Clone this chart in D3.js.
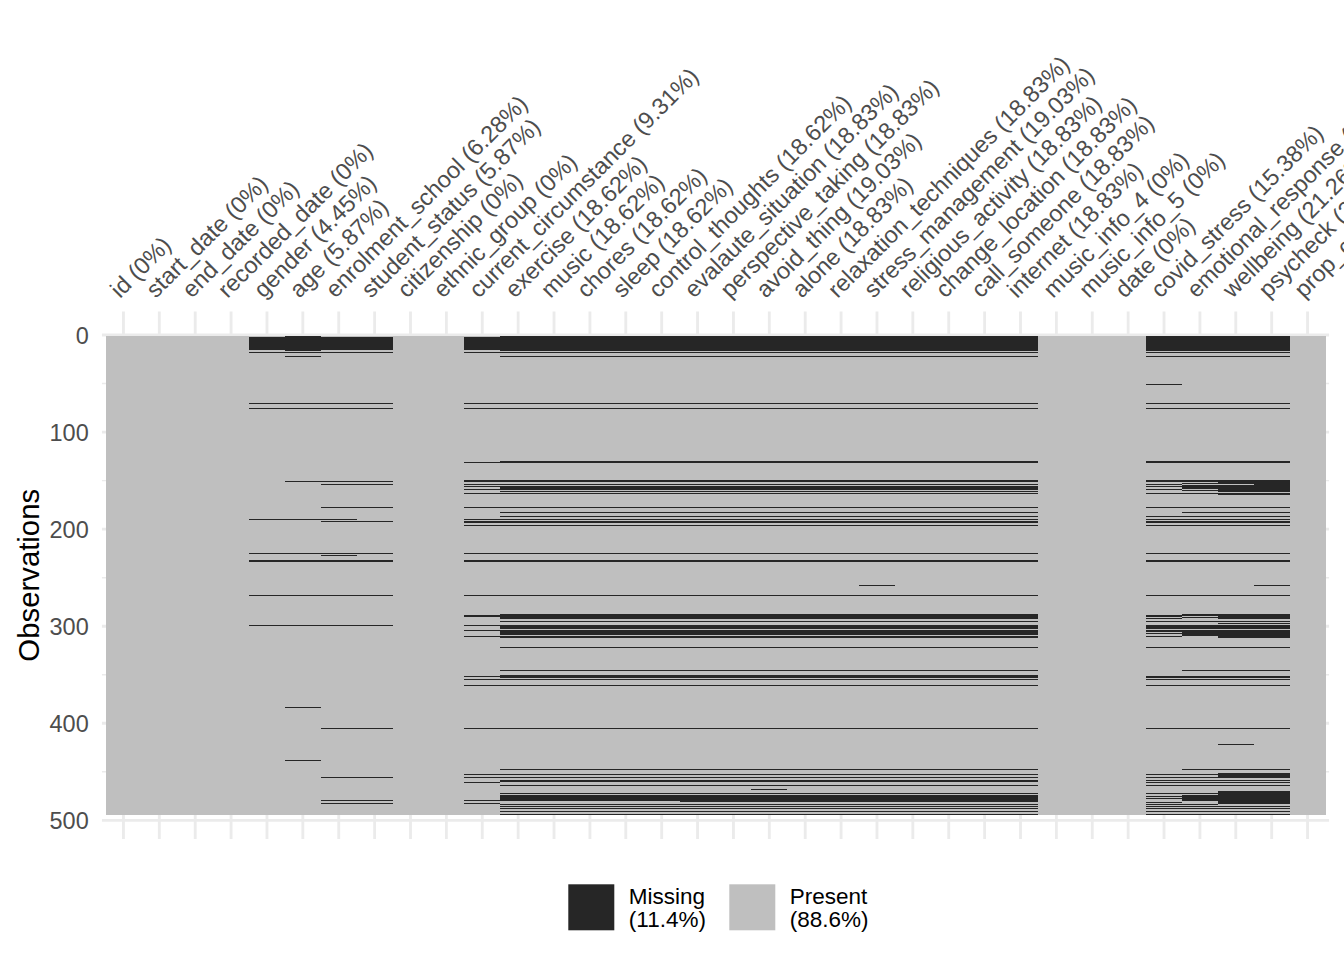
<!DOCTYPE html>
<html><head><meta charset="utf-8">
<script src="https://cdn.jsdelivr.net/npm/d3@7"></script>
<style>body{margin:0;background:#fff} svg{display:block}</style>
</head><body>
<svg id="chart" width="1344" height="960"></svg>
<script>
// ---------------- data ----------------
const columns = ["id","start_date","end_date","recorded_date","gender","age","enrolment_school","student_status","citizenship","ethnic_group","current_circumstance","exercise","music","chores","sleep","control_thoughts","evalaute_situation","perspective_taking","avoid_thing","alone","relaxation_techniques","stress_management","religious_activity","change_location","call_someone","internet","music_info_4","music_info_5","date","covid_stress","emotional_response","wellbeing","psycheck","prop_complete"];
const missingPct = ["0%","0%","0%","0%","4.45%","5.87%","6.28%","5.87%","0%","0%","9.31%","18.62%","18.62%","18.62%","18.62%","18.62%","18.83%","18.83%","19.03%","18.83%","18.83%","19.03%","18.83%","18.83%","18.83%","18.83%","0%","0%","0%","15.38%","17.41%","21.26%","21.05%","0%"];
const nObs = 494;
const yTicks = [0,100,200,300,400,500];
const yMinorTicks = [50,150,250,350,450];
const legendNames = ["Missing","Present"];
const legendPct = ["(11.4%)","(88.6%)"];

// missing observation runs [first row, last row]
const missGender = [[3,15],[18,18],[71,71],[76,76],[190,190],[225,225],[232,233],[268,268],[299,299]];
const missAge = [[1,16],[18,18],[22,22],[71,71],[76,76],[151,151],[190,190],[225,225],[232,233],[268,268],[299,299],[384,384],[438,438]];
const missEnrolment = [[3,15],[18,18],[71,71],[76,76],[151,151],[154,154],[178,178],[190,190],[192,192],[225,225],[227,227],[232,233],[268,268],[299,299],[405,405],[456,456],[480,480],[483,483]];
const missStudent = [[3,15],[18,18],[71,71],[76,76],[151,151],[154,154],[178,178],[192,192],[225,225],[232,233],[268,268],[299,299],[405,405],[456,456],[480,480],[483,483]];
const missCircumstance = [[3,15],[18,18],[71,71],[76,76],[131,131],[150,151],[154,154],[156,156],[159,159],[163,163],[178,178],[190,190],[192,193],[196,196],[225,225],[232,233],[268,268],[289,290],[299,299],[304,304],[311,311],[352,352],[355,355],[361,361],[405,405],[453,453],[456,456],[461,461],[480,480],[483,483]];
const missCoping = [[1,16],[18,18],[22,22],[71,71],[76,76],[130,131],[150,151],[154,154],[156,159],[161,161],[163,163],[178,178],[183,183],[187,187],[190,190],[192,193],[196,196],[205,205],[225,225],[232,233],[268,268],[288,292],[295,295],[299,302],[304,309],[311,312],[322,322],[346,346],[351,353],[355,355],[361,361],[405,405],[443,443],[448,448],[453,453],[456,456],[459,460],[464,464],[472,472],[474,480],[484,484],[486,486],[488,488],[491,491],[494,494]];
const missCopingLate = [[481,481]];
const missAvoidExtra = [[468,468]];
const missStressExtra = [[258,258]];
const missCovid = [[1,16],[18,18],[22,22],[51,51],[71,71],[76,76],[130,131],[150,151],[154,154],[156,156],[159,159],[163,163],[178,178],[187,187],[190,190],[192,193],[196,196],[205,205],[225,225],[232,233],[268,268],[289,290],[292,292],[295,295],[299,302],[304,305],[308,308],[311,311],[322,322],[352,353],[355,355],[361,361],[405,405],[453,453],[456,456],[459,459],[461,461],[464,464],[472,472],[475,475],[478,478],[482,482],[484,484],[486,486],[488,488],[491,491],[494,494]];
const missEmotional = [[1,16],[18,18],[22,22],[71,71],[76,76],[130,131],[150,151],[153,153],[155,158],[160,160],[163,163],[178,178],[183,183],[187,187],[190,190],[192,193],[196,196],[205,205],[225,225],[232,233],[268,268],[288,289],[291,291],[295,295],[299,302],[304,310],[322,322],[346,346],[352,353],[355,355],[361,361],[405,405],[443,443],[448,448],[453,453],[456,456],[459,459],[461,461],[464,464],[472,472],[474,480],[484,484],[486,486],[488,488],[491,491],[494,494]];
const missWellbeing = [[1,16],[18,18],[22,22],[71,71],[76,76],[130,131],[150,153],[155,161],[163,164],[178,178],[183,183],[187,187],[190,190],[192,193],[196,196],[205,205],[225,225],[232,233],[268,268],[288,292],[295,295],[297,297],[299,302],[304,312],[322,322],[346,346],[352,353],[355,355],[361,361],[405,405],[422,422],[443,443],[448,448],[452,456],[459,459],[461,461],[464,464],[470,483],[486,486],[488,488],[491,491],[494,494]];
const missPsycheck = [[1,16],[18,18],[22,22],[71,71],[76,76],[130,131],[150,161],[163,164],[178,178],[183,183],[187,187],[190,190],[192,193],[196,196],[205,205],[225,225],[232,233],[258,258],[268,268],[288,292],[295,295],[297,297],[299,302],[304,312],[322,322],[346,346],[352,353],[355,355],[361,361],[405,405],[443,443],[448,448],[452,456],[459,459],[461,461],[464,464],[470,483],[486,486],[488,488],[491,491],[494,494]];

const early = missCoping, late = missCoping.concat(missCopingLate);
const missingByColumn = {
  gender: missGender, age: missAge, enrolment_school: missEnrolment, student_status: missStudent,
  current_circumstance: missCircumstance,
  exercise: early, music: early, chores: early, sleep: early, control_thoughts: early,
  evalaute_situation: late, perspective_taking: late, avoid_thing: late.concat(missAvoidExtra),
  alone: late, relaxation_techniques: late, stress_management: late.concat(missStressExtra),
  religious_activity: late, change_location: late, call_someone: late, internet: late,
  covid_stress: missCovid, emotional_response: missEmotional, wellbeing: missWellbeing, psycheck: missPsycheck
};

// ---------------- drawing ----------------
const svg = d3.select("#chart");
const FONT = "'Liberation Sans', Arial, Helvetica, sans-serif";
const colPresent = "#BFBFBF", colMissing = "#262626", grid = "#EBEBEB";

const x = d3.scaleBand().domain(columns).range([105.5, 1325.5]).padding(0);
const y = d3.scaleLinear().domain([0.5, nObs + 0.5]).range([335.5, 815]);
const bw = x.bandwidth();
const px0 = x.range()[0] - 0.1 * bw, px1 = x.range()[1] + 0.1 * bw;
const ext = 0.05 * nObs;
const py0 = y(0.5 - ext), py1 = y(nObs + 0.5 + ext);

// grid
const g = svg.append("g");
g.selectAll("line.minor").data(yMinorTicks).join("line")
  .attr("x1", px0).attr("x2", px1).attr("y1", d => y(d)).attr("y2", d => y(d))
  .attr("stroke", grid).attr("stroke-width", 1.42);
g.selectAll("line.major").data(yTicks).join("line")
  .attr("x1", px0).attr("x2", px1).attr("y1", d => y(d)).attr("y2", d => y(d))
  .attr("stroke", grid).attr("stroke-width", 2.85);
g.selectAll("line.vert").data(columns).join("line")
  .attr("x1", d => x(d) + bw / 2).attr("x2", d => x(d) + bw / 2)
  .attr("y1", py0).attr("y2", py1)
  .attr("stroke", grid).attr("stroke-width", 2.85);

// present background per column
const tiles = svg.append("g").attr("shape-rendering", "crispEdges");
tiles.selectAll("rect.present").data(columns).join("rect")
  .attr("x", d => x(d)).attr("width", bw)
  .attr("y", y(0.5)).attr("height", y(nObs + 0.5) - y(0.5))
  .attr("fill", colPresent);

// missing runs
const runs = [];
columns.forEach(c => (missingByColumn[c] || []).forEach(r => runs.push({c, a: r[0], b: r[1]})));
tiles.selectAll("rect.miss").data(runs).join("rect")
  .attr("x", d => x(d.c)).attr("width", bw)
  .attr("y", d => y(d.a - 0.5)).attr("height", d => y(d.b + 0.5) - y(d.a - 0.5))
  .attr("fill", colMissing);

// y axis
const yAxis = svg.append("g").attr("transform", `translate(${px0},0)`)
  .call(d3.axisLeft(y).tickValues(yTicks).tickSize(0).tickPadding(13.2));
yAxis.select(".domain").remove();
yAxis.selectAll("text").attr("font-family", FONT).attr("font-size", 23.47).attr("fill", "#4D4D4D").attr("dy", "0.36em");

// x axis (top, rotated)
const xAxis = svg.append("g").attr("transform", `translate(0,299)`)
  .call(d3.axisTop(x).tickSize(0).tickPadding(0).tickFormat((d, i) => `${d} (${missingPct[i]})`));
xAxis.select(".domain").remove();
xAxis.selectAll("text")
  .attr("x", 0).attr("y", 0).attr("dy", 0)
  .attr("transform", "translate(-3.5,0) rotate(-45)")
  .style("text-anchor", "start")
  .attr("font-family", FONT).attr("font-size", 23.47).attr("fill", "#4D4D4D");

// y title
svg.append("text").attr("transform", `translate(38.5,${(py0 + py1) / 2}) rotate(-90)`)
  .attr("text-anchor", "middle").attr("font-family", FONT).attr("font-size", 29.33).attr("fill", "#000")
  .text("Observations");

// legend
const legX = [568.3, 729.3];
const lg = svg.append("g");
legendNames.forEach((name, i) => {
  lg.append("rect").attr("x", legX[i]).attr("y", 884.3).attr("width", 46).attr("height", 46)
    .attr("fill", i === 0 ? colMissing : colPresent);
  const t = lg.append("text").attr("font-family", FONT).attr("font-size", 22.5).attr("fill", "#000");
  t.append("tspan").attr("x", legX[i] + 60.5).attr("y", 903.5).text(name);
  t.append("tspan").attr("x", legX[i] + 60.5).attr("y", 927).text(legendPct[i]);
});
</script>
</body></html>
